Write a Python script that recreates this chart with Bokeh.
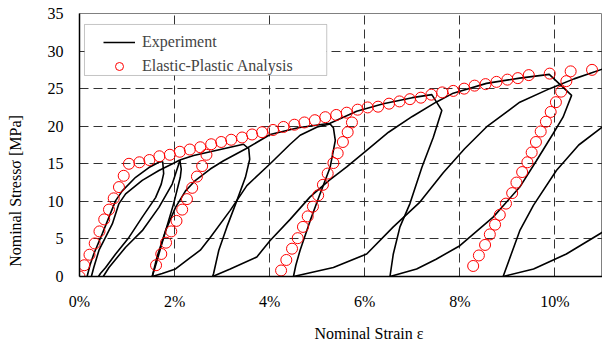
from bokeh.plotting import figure
from bokeh.models import (Range1d, Legend, LegendItem, BoxAnnotation,
                          PrintfTickFormatter, FixedTicker, ColumnDataSource)
from bokeh.embed import file_html
from bokeh.resources import INLINE

# ---------------- Elastic-plastic analysis (strain in %, stress in MPa) ----------------
ana_env_strain = [0.0, 0.10, 0.21, 0.32, 0.42, 0.52, 0.62, 0.72, 0.83, 0.93,
                  1.04, 1.26, 1.47, 1.68, 1.90, 2.11, 2.32, 2.54, 2.77, 2.98,
                  3.19, 3.42, 3.63, 3.84, 4.07, 4.29, 4.52, 4.73, 4.95, 5.17,
                  5.40, 5.62, 5.85, 6.06, 6.28, 6.51, 6.73, 6.95, 7.18, 7.40,
                  7.63, 7.86, 8.09, 8.31, 8.54, 8.77, 9.00, 9.22, 9.45, 9.89,
                  10.33, 10.78]
ana_env_stress = [0.0, 1.5, 2.9, 4.4, 6.0, 7.6, 8.9, 10.4, 11.9, 13.4,
                  15.0, 15.2, 15.5, 16.0, 16.2, 16.6, 16.9, 17.2, 17.6, 17.9,
                  18.2, 18.5, 18.9, 19.2, 19.5, 19.9, 20.2, 20.5, 20.8, 21.2,
                  21.5, 21.8, 22.2, 22.5, 22.6, 23.0, 23.3, 23.6, 23.8, 24.2,
                  24.5, 24.7, 25.0, 25.4, 25.6, 25.9, 26.2, 26.4, 26.8, 27.0,
                  27.3, 27.5]
ana_unl1_strain = [2.67, 2.58, 2.47, 2.37, 2.26, 2.16, 2.04, 1.93, 1.82, 1.72, 1.61]
ana_unl1_stress = [16.2, 14.7, 13.3, 11.8, 10.3, 8.9, 7.4, 6.0, 4.5, 3.0, 1.5]
ana_unl2_strain = [5.73, 5.64, 5.54, 5.43, 5.34, 5.22, 5.12, 5.02, 4.91, 4.80,
                   4.70, 4.59, 4.47, 4.35, 4.24]
ana_unl2_stress = [20.5, 19.2, 17.9, 16.4, 15.1, 13.7, 12.2, 10.8, 9.3, 8.0,
                   6.6, 5.1, 3.7, 2.2, 0.8]
ana_unl3_strain = [10.24, 10.13, 10.02, 9.91, 9.81, 9.70, 9.60, 9.51, 9.42, 9.31,
                   9.19, 9.10, 8.97, 8.84, 8.74, 8.63, 8.53, 8.40, 8.28]
ana_unl3_stress = [26.0, 24.6, 23.2, 21.9, 20.6, 19.3, 17.9, 16.5, 15.2, 13.9,
                   12.5, 11.1, 9.7, 8.2, 6.9, 5.6, 4.2, 2.8, 1.4]

# ---------------- Experiment: loading / unloading paths ----------------
exp1_strain = [0.16, 0.22, 0.30, 0.48, 0.62, 0.76, 0.90, 1.18, 1.46, 1.67, 1.75]
exp1_stress = [0.0, 1.5, 3.0, 5.7, 7.9, 10.1, 11.4, 13.2, 14.5, 15.2, 15.3]
exp2_strain = [1.75, 1.77, 1.72, 1.60, 1.32, 1.04, 0.76, 0.55, 0.44, 0.40]
exp2_stress = [15.3, 13.7, 12.3, 10.5, 7.9, 5.2, 3.0, 1.2, 0.4, 0.0]
exp3_strain = [0.25, 0.30, 0.41, 0.69, 0.83, 0.97, 1.32, 1.67, 2.02, 2.11]
exp3_stress = [0.0, 1.2, 3.5, 7.0, 9.7, 11.0, 12.8, 14.1, 15.2, 15.5]
exp4_strain = [0.50, 0.62, 0.97, 1.32, 1.67, 1.95, 2.09, 2.11]
exp4_stress = [0.0, 1.2, 3.9, 6.1, 9.2, 12.3, 15.0, 15.5]
exp5_strain = [2.11, 2.14, 2.12, 1.98, 1.77, 1.63, 1.53]
exp5_stress = [15.5, 14.3, 13.2, 9.7, 5.2, 2.1, 0.0]
exp6_strain = [2.11, 2.40, 2.75, 3.10, 3.45, 3.56, 3.58, 3.49, 3.31, 3.10, 2.93, 2.82, 2.80]
exp6_stress = [15.5, 16.1, 16.6, 17.1, 17.6, 17.0, 15.6, 13.2, 10.1, 6.6, 3.5, 0.4, 0.0]
exp7_strain = [1.53, 1.74, 2.02, 2.33, 2.54, 2.75, 3.17, 3.52, 4.01, 4.43, 4.64, 5.00,
               5.27, 5.34, 5.38, 5.27, 5.06, 4.85, 4.64, 4.55, 4.50]
exp7_stress = [0.0, 0.4, 1.0, 2.5, 3.5, 5.2, 8.8, 12.1, 15.0, 17.6, 18.8, 19.9,
               20.3, 19.8, 18.1, 14.5, 11.0, 7.4, 3.5, 1.5, 0.0]
exp8_strain = [1.53, 1.63, 1.81, 2.02, 2.23, 2.44, 2.75, 3.03, 3.50, 4.01, 4.60, 5.27,
               5.83, 6.39, 7.00, 7.41, 7.62, 7.44, 7.20, 6.95, 6.74, 6.60, 6.53]
exp8_stress = [0.0, 2.6, 6.1, 9.2, 11.4, 12.8, 14.3, 15.4, 17.0, 18.9, 19.8, 20.4,
               22.0, 23.0, 23.8, 24.2, 22.1, 18.5, 14.5, 9.7, 6.6, 3.0, 0.0]
exp9_strain = [2.80, 3.17, 3.73, 4.01, 4.43, 4.85, 5.25, 5.62, 6.04, 6.50, 7.00, 7.50,
               7.86, 8.56, 9.26, 9.88, 10.35, 10.17, 9.96, 9.61, 9.26, 8.70, 8.00,
               7.50, 7.09, 6.53]
exp9_stress = [0.0, 1.0, 2.6, 4.8, 7.6, 10.6, 12.8, 14.6, 16.8, 19.2, 21.3, 23.2,
               24.4, 25.7, 26.4, 26.9, 24.1, 21.2, 19.0, 15.4, 11.9, 7.9, 4.1,
               2.3, 1.0, 0.0]
exp10_strain = [4.50, 5.34, 6.04, 6.60, 7.16, 7.65, 8.10, 8.56, 9.26, 9.89, 10.40, 11.0]
exp10_stress = [0.0, 1.2, 3.0, 6.6, 9.9, 13.8, 17.0, 19.9, 23.2, 25.0, 26.3, 27.6]
exp11_strain = [8.91, 9.26, 9.55, 10.03, 10.50, 11.0]
exp11_stress = [0.0, 6.1, 9.5, 14.1, 17.5, 19.9]
exp12_strain = [8.91, 9.55, 10.24, 11.0]
exp12_stress = [0.0, 1.0, 3.0, 5.9]

exp_paths = [(exp1_strain, exp1_stress), (exp2_strain, exp2_stress),
             (exp3_strain, exp3_stress), (exp4_strain, exp4_stress),
             (exp5_strain, exp5_stress), (exp6_strain, exp6_stress),
             (exp7_strain, exp7_stress), (exp8_strain, exp8_stress),
             (exp9_strain, exp9_stress), (exp10_strain, exp10_stress),
             (exp11_strain, exp11_stress), (exp12_strain, exp12_stress)]

x_ticks = [0, 2, 4, 6, 8, 10]
y_ticks = [0, 5, 10, 15, 20, 25, 30, 35]

FONT = "Liberation Serif"
NBSP = "\u00a0"

p = figure(width=602, height=345, x_range=Range1d(0, 11), y_range=Range1d(0, 35),
           output_backend="svg", toolbar_location=None,
           min_border_left=79, min_border_right=0, min_border_top=13, min_border_bottom=69)
p.background_fill_color = "white"
p.border_fill_color = "white"
p.outline_line_color = "#808080"
p.outline_line_width = 1

# axes
p.xaxis.ticker = FixedTicker(ticks=x_ticks)
p.yaxis.ticker = FixedTicker(ticks=y_ticks)
p.xaxis.formatter = PrintfTickFormatter(format="%d%%")
for ax in (p.xaxis, p.yaxis):
    ax.major_tick_line_color = None
    ax.minor_tick_line_color = None
    ax.major_tick_out = 0
    ax.major_tick_in = 0
    ax.axis_line_color = "black"
    ax.axis_line_width = 1.5
    ax.major_label_text_font = FONT
    ax.major_label_text_font_size = "16px"
    ax.major_label_text_color = "black"
    ax.axis_label_text_font = FONT
    ax.axis_label_text_font_size = "16px"
    ax.axis_label_text_font_style = "normal"
    ax.axis_label_text_color = "black"
p.xaxis.major_label_standoff = 16
p.yaxis.major_label_standoff = 16

# axis titles, nudged off-centre with non-breaking spaces
p.xaxis.axis_label = NBSP * 14 + "Nominal Strain ε"
p.xaxis.axis_label_standoff = 12
p.yaxis.axis_label = "Nominal Stressσ [MPa]" + NBSP * 23
p.yaxis.axis_label_standoff = 21

# dashed grid
p.xgrid.ticker = FixedTicker(ticks=x_ticks[1:])
p.ygrid.ticker = FixedTicker(ticks=y_ticks[1:-1])
for g in (p.xgrid, p.ygrid):
    g.grid_line_color = "#333333"
    g.grid_line_dash = "9 5"
    g.grid_line_width = 1

# experiment curves
exp_renderers = []
for xs, ys in exp_paths:
    r = p.line(xs, ys, line_color="black", line_width=1.6)
    exp_renderers.append(r)

# analysis markers
ana_src = ColumnDataSource(data=dict(
    x=ana_env_strain + ana_unl1_strain + ana_unl2_strain + ana_unl3_strain,
    y=ana_env_stress + ana_unl1_stress + ana_unl2_stress + ana_unl3_stress))
ana_r = p.scatter("x", "y", source=ana_src, marker="circle", size=11,
                  fill_color=None, line_color="red", line_width=1)

# legend frame
p.add_layout(BoxAnnotation(left=0.105, right=5.2, top=33.54, bottom=26.75,
                           fill_color="white", fill_alpha=1.0,
                           line_color="#404040", line_width=1))

legend = Legend(items=[LegendItem(label="Experiment", renderers=[exp_renderers[0]]),
                       LegendItem(label="Elastic-Plastic Analysis", renderers=[ana_r])],
                location=(24, 200), margin=0, padding=4, spacing=4,
                glyph_width=32, glyph_height=20, label_height=20, label_standoff=7,
                label_text_font=FONT, label_text_font_size="16px",
                border_line_color=None, background_fill_alpha=0)
p.add_layout(legend, "center")

open("out.html", "w").write(file_html(p, INLINE))
